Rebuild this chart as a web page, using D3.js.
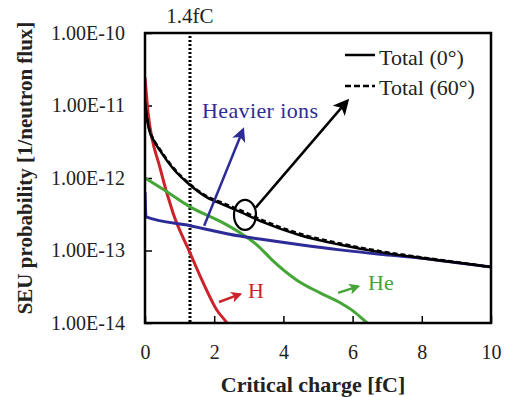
<!DOCTYPE html>
<html>
<head>
<meta charset="utf-8">
<script src="https://cdn.jsdelivr.net/npm/d3@7"></script>
<style>
  body { margin: 0; background: #fff; }
  svg text { font-family: "Liberation Serif", "Times New Roman", serif !important; }
</style>
</head>
<body>
<div id="chart"></div>
<script>
// critical charge [fC] and SEU probability values
const xTotal = [0, 0.05, 0.12, 0.25, 0.43, 0.81, 1.3, 1.79, 2.26, 2.75, 3.41, 4.48, 5.64, 6.79, 7.95, 9.1, 10];
const yTotal0 = [1.1e-11, 7.0e-12, 4.6e-12, 3.3e-12, 2.4e-12, 1.35e-12, 8.0e-13, 5.4e-13, 4.3e-13, 3.4e-13, 2.46e-13, 1.62e-13, 1.2e-13, 9.5e-14, 7.9e-14, 6.7e-14, 5.9e-14];
const yTotal60 = [1.1e-11, 7.2e-12, 4.8e-12, 3.4e-12, 2.5e-12, 1.4e-12, 8.2e-13, 5.6e-13, 4.5e-13, 3.6e-13, 2.6e-13, 1.7e-13, 1.25e-13, 9.8e-14, 8.1e-14, 6.8e-14, 5.9e-14];

const xHeavy = [0, 0.03, 1.3, 2.75, 3.32, 4.48, 5.64, 6.79, 7.95, 9.1, 10];
const yHeavy = [6.4e-13, 2.9e-13, 2.2e-13, 1.58e-13, 1.44e-13, 1.2e-13, 1.02e-13, 8.9e-14, 7.9e-14, 6.7e-14, 5.9e-14];

const xHe = [0, 0.5, 1.3, 2.26, 2.75, 3.24, 3.7, 4.39, 5.06, 5.64, 6.01, 6.42, 6.6];
const yHe = [1.0e-12, 7.1e-13, 4.0e-13, 2.4e-13, 1.75e-13, 1.19e-13, 7.2e-14, 3.9e-14, 2.6e-14, 1.9e-14, 1.47e-14, 1.0e-14, 8.5e-15];

const xH = [0, 0.09, 0.43, 0.81, 1.3, 1.68, 2.08, 2.37, 2.5];
const yH = [2.47e-11, 7.9e-12, 1.4e-12, 3.3e-13, 9.3e-14, 3.6e-14, 1.5e-14, 1.0e-14, 8e-15];

const xTicks = [0, 2, 4, 6, 8, 10];
const yTicks = [1e-10, 1e-11, 1e-12, 1e-13, 1e-14];
const yTickLabels = ["1.00E-10", "1.00E-11", "1.00E-12", "1.00E-13", "1.00E-14"];
const thresholdQ = 1.3;

const width = 507;
const height = 397;
const margin = { top: 33, right: 16, bottom: 74, left: 145 };

const svg = d3.select("#chart")
    .append("svg")
    .attr("width", width)
    .attr("height", height);

const x = d3.scaleLinear()
    .domain([0, 10])
    .range([margin.left, width - margin.right]);

const y = d3.scaleLog()
    .domain([1e-14, 1e-10])
    .range([height - margin.bottom, margin.top]);

const red = "#cc2229", green = "#45a536", blue = "#2d2b98";

const defs = svg.append("defs");
defs.append("clipPath").attr("id", "plot")
    .append("rect")
    .attr("x", margin.left).attr("y", margin.top)
    .attr("width", x(10) - x(0)).attr("height", y(1e-14) - y(1e-10));

function marker(id, color, size) {
    defs.append("marker")
        .attr("id", id)
        .attr("viewBox", "0 0 10 10")
        .attr("refX", 8).attr("refY", 5)
        .attr("markerUnits", "userSpaceOnUse")
        .attr("markerWidth", size).attr("markerHeight", size)
        .attr("orient", "auto")
        .append("path")
        .attr("d", "M0,0 L10,5 L0,10 L2.5,5 Z")
        .attr("fill", color);
}
marker("ar-black", "#000", 16);
marker("ar-blue", blue, 14);
marker("ar-red", red, 11);
marker("ar-green", green, 11);

// axes, ticks inside
function xAxis(g) {
    g.attr("transform", `translate(0,${y(1e-14)})`)
        .call(d3.axisBottom(x).tickValues(xTicks).tickSize(-7).tickPadding(22).tickSizeOuter(0))
        .call(g => g.select(".domain").remove())
        .call(g => g.selectAll("line").attr("stroke-width", 1.5))
        .call(g => g.selectAll("text").attr("font-size", 20).attr("fill", "#222"));
}
function yAxis(g) {
    g.attr("transform", `translate(${margin.left},0)`)
        .call(d3.axisLeft(y).tickValues(yTicks).tickFormat((d, i) => yTickLabels[i]).tickSize(-7).tickPadding(20).tickSizeOuter(0))
        .call(g => g.select(".domain").remove())
        .call(g => g.selectAll("line").attr("stroke-width", 1.5))
        .call(g => g.selectAll("text").attr("font-size", 20).attr("fill", "#222"));
}
svg.append("g").call(xAxis);
svg.append("g").call(yAxis);

// threshold line
svg.append("line")
    .attr("x1", x(thresholdQ)).attr("x2", x(thresholdQ))
    .attr("y1", y(1e-10) + 3).attr("y2", y(1e-14))
    .attr("stroke", "#000").attr("stroke-width", 3)
    .attr("stroke-dasharray", "2,2");
svg.append("text")
    .attr("x", x(thresholdQ)).attr("y", 23)
    .attr("text-anchor", "middle")
    .attr("font-size", 21).attr("fill", "#222")
    .text("1.4fC");

const line = d3.line().curve(d3.curveMonotoneX).x(d => x(d[0])).y(d => y(d[1]));
const curves = svg.append("g").attr("clip-path", "url(#plot)").attr("fill", "none");

function curve(xs, ys, color, w, dash) {
    curves.append("path")
        .datum(d3.zip(xs, ys))
        .attr("d", line)
        .attr("stroke", color)
        .attr("stroke-width", w)
        .attr("stroke-linejoin", "round")
        .attr("stroke-dasharray", dash);
}
curve(xH, yH, red, 3);
curve(xHe, yHe, green, 3);
curve(xHeavy, yHeavy, blue, 3);
curve(xTotal, yTotal0, "#000", 2.5);
curve(xTotal, yTotal60, "#000", 2.5, "5,3");

// frame
svg.append("rect")
    .attr("x", x(0)).attr("y", y(1e-10))
    .attr("width", x(10) - x(0)).attr("height", y(1e-14) - y(1e-10))
    .attr("fill", "none").attr("stroke", "#000").attr("stroke-width", 2.5);

// annotations
svg.append("ellipse")
    .attr("cx", x(2.89)).attr("cy", y(3.1e-13))
    .attr("rx", 11).attr("ry", 15)
    .attr("fill", "none").attr("stroke", "#000").attr("stroke-width", 2.2);

function arrow(x1, y1, x2, y2, color, id, w) {
    svg.append("line")
        .attr("x1", x(x1)).attr("y1", y(y1))
        .attr("x2", x(x2)).attr("y2", y(y2))
        .attr("stroke", color).attr("stroke-width", w)
        .attr("marker-end", `url(#${id})`);
}
arrow(3.2, 3.9e-13, 5.84, 1.15e-11, "#000", "ar-black", 2.5);
arrow(1.71, 2.2e-13, 2.83, 4.6e-12, blue, "ar-blue", 2.5);
arrow(2.14, 1.95e-14, 2.75, 2.5e-14, red, "ar-red", 2.5);
arrow(5.58, 2.6e-14, 6.16, 3.2e-14, green, "ar-green", 2.5);

svg.append("text").attr("x", 202).attr("y", 118)
    .attr("font-size", 22).attr("fill", blue)
    .attr("textLength", 116).attr("lengthAdjust", "spacing")
    .text("Heavier ions");
svg.append("text").attr("x", 248).attr("y", 298)
    .attr("font-size", 22).attr("fill", red).text("H");
svg.append("text").attr("x", 368).attr("y", 290)
    .attr("font-size", 22).attr("fill", green).text("He");

// legend
const legend = svg.append("g");
const legendItems = [["Total (0°)", null, 55, 65], ["Total (60°)", "6,3", 86, 95]];
legendItems.forEach(([label, dash, ly, ty]) => {
    legend.append("line")
        .attr("x1", 345).attr("x2", 375).attr("y1", ly).attr("y2", ly)
        .attr("stroke", "#000").attr("stroke-width", 2.5)
        .attr("stroke-dasharray", dash);
    legend.append("text").attr("x", 379).attr("y", ty)
        .attr("font-size", 22).attr("fill", "#222").text(label);
});

// axis titles
svg.append("text")
    .attr("x", 313).attr("y", 392)
    .attr("text-anchor", "middle")
    .attr("font-size", 22).attr("font-weight", "bold").attr("fill", "#222")
    .text("Critical charge [fC]");
svg.append("text")
    .attr("transform", "translate(32,168) rotate(-90)")
    .attr("text-anchor", "middle")
    .attr("font-size", 21).attr("font-weight", "bold").attr("fill", "#222")
    .text("SEU probability [1/neutron flux]");
</script>
</body>
</html>
